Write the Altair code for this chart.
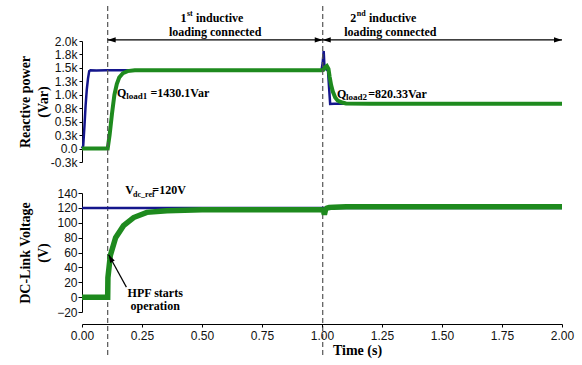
import altair as alt
import pandas as pd

# ---------------- data ----------------
# Reactive power, blue (reference) trace
q_blue_t = [0.0, 0.005, 0.01, 0.015, 0.02, 0.025, 0.03, 0.035, 0.06, 0.1, 0.2, 0.5, 0.8, 0.998,
            1.003, 1.007, 1.01, 1.015, 1.025, 1.03, 1.034, 1.05, 1.1, 1.5, 2.0]
q_blue_v = [0, 50, 400, 800, 1100, 1300, 1440, 1455, 1450, 1455, 1455, 1455, 1455, 1455,
            1600, 1815, 1550, 1480, 1450, 1100, 830, 835, 835, 835, 835]
# Reactive power, green (measured) trace
q_green_t = [0.0, 0.107, 0.115, 0.125, 0.135, 0.145, 0.155, 0.17, 0.19, 0.22, 0.3, 0.6, 0.9, 1.0,
             1.005, 1.012, 1.02, 1.027, 1.032, 1.038, 1.045, 1.055, 1.065, 1.08, 1.1, 1.2, 1.6, 2.0]
q_green_v = [0, 0, 250, 650, 1000, 1200, 1320, 1400, 1440, 1455, 1458, 1458, 1458, 1455,
             1460, 1510, 1535, 1480, 1330, 1180, 1060, 950, 895, 860, 840, 835, 835, 835]
# DC-link voltage, blue (reference) trace
v_blue_t = [0.0, 2.0]
v_blue_v = [120, 120]
# DC-link voltage, green (measured) trace
v_green_t = [0.0, 0.107, 0.108, 0.118, 0.14, 0.173, 0.215, 0.27, 0.354, 0.5, 0.8, 0.99,
             1.005, 1.01, 1.015, 1.02, 1.03, 1.05, 1.1, 1.5, 2.0]
v_green_v = [0, 0, 26, 56, 80, 96, 107, 114, 116, 117.5, 117.5, 117.5,
             117, 111, 118, 119.5, 120.5, 121, 121.5, 121.5, 121.5]

event_t = [0.107, 1.003]          # inductive loads connected
x_ticks = [0.0, 0.25, 0.5, 0.75, 1.0, 1.25, 1.5, 1.75, 2.0]
q_ticks = [-250, 0, 250, 500, 750, 1000, 1250, 1500, 1750, 2000]
q_tick_labels = ["-0.3k", "0.0", "0.3k", "0.5k", "0.8k", "1.0k", "1.3k", "1.5k", "1.8k", "2.0k"]
v_ticks = [-20, 0, 20, 40, 60, 80, 100, 120, 140]

BLUE = "#14168c"
GREEN = "#1e8a1e"
SERIF = "Liberation Serif"
SANS = "Liberation Sans"

W = 480
H_TOP = 121
H_BOT = 119

q_label_expr = " : ".join(
    f"datum.value == {v} ? '{l}'" for v, l in zip(q_ticks, q_tick_labels)
) + " : ''"

xs = alt.Scale(domain=[0, 2], nice=False, zero=False)
qs = alt.Scale(domain=[-250, 2000], nice=False, zero=False)
vs = alt.Scale(domain=[-20, 140], nice=False, zero=False)

axis_common = dict(domainColor="black", tickColor="black", labelFont=SANS, labelFontSize=12,
                   labelColor="#111", grid=False, titleFont=SERIF, titleFontWeight="bold",
                   titleFontSize=14, titleColor="black", labelFlush=False, labelOverlap=False)

q_axis = alt.Axis(values=q_ticks, labelExpr=q_label_expr, tickSize=3, labelPadding=2,
                  title=["Reactive power", "(Var)"], titleAngle=270, titleX=-63.7,
                  titleY=H_TOP / 2, titleAlign="center", titleBaseline="top",
                  titleLineHeight=18, **axis_common)
v_axis = alt.Axis(values=v_ticks, tickSize=4, labelPadding=1,
                  title=["DC-Link Voltage", "(V)"], titleAngle=270, titleX=-63.7,
                  titleY=H_BOT / 2, titleAlign="center", titleBaseline="top",
                  titleLineHeight=18, **axis_common)
x_axis = alt.Axis(values=x_ticks, format=".2f", tickSize=3, labelPadding=3, offset=12,
                  title="Time (s)", titleX=275, titleY=30, titleAlign="center",
                  titleBaseline="alphabetic", **axis_common)

# ---------------- top panel ----------------
qb = pd.DataFrame({"t": q_blue_t, "v": q_blue_v})
qg = pd.DataFrame({"t": q_green_t, "v": q_green_v})

def xq(field="t"):
    return alt.X(f"{field}:Q", scale=xs, axis=None)

def yq(field="v"):
    return alt.Y(f"{field}:Q", scale=qs, axis=q_axis)

blue_q = alt.Chart(qb).mark_line(color=BLUE, strokeWidth=2.5).encode(
    x=xq(), y=yq(), order="t:Q")
green_q = alt.Chart(qg).mark_line(color=GREEN, strokeWidth=4).encode(
    x=xq(), y=yq(), order="t:Q")

ev = pd.DataFrame({"t": event_t})
dashes = alt.Chart(ev).mark_rule(color="#555", strokeWidth=1.2, strokeDash=[5, 3]).encode(
    x=xq(), y=alt.value(-35), y2=alt.value(314))

arrow_df = pd.DataFrame({"t0": [event_t[0], event_t[1]], "t1": [event_t[1], 2.0], "v": [2020, 2020]})
arrow_lines = alt.Chart(arrow_df).mark_rule(color="black", strokeWidth=1.2).encode(
    x=xq("t0"), x2="t1:Q", y=yq())

head_path = "M0,0L-2,-0.65L-2,0.65Z"
heads_df = pd.DataFrame({"t": [event_t[0], event_t[1], event_t[1], 2.0],
                         "v": [2020, 2020, 2020, 2020],
                         "a": [180, 0, 180, 0]})
heads = alt.Chart(heads_df).mark_point(shape=head_path, filled=True, size=64, color="black",
                                       opacity=1).encode(
    x=xq(), y=yq(), angle=alt.Angle("a:Q", scale=None))

top_left_txt = pd.DataFrame({
    "text": ["1", "st", "inductive", "2", "nd", "inductive",
             "Q", "load1", "=1430.1Var", "Q", "load2", "=820.33Var"],
    "t": [0.41, 0.437, 0.475, 1.118, 1.145, 1.196,
          0.146, 0.1845, 0.2855, 1.0625, 1.1, 1.1925],
    "v": [2360, 2465, 2360, 2360, 2465, 2360,
          965, 913, 965, 947, 904, 947],
    "s": [12, 8, 12, 12, 8, 12, 12, 9, 12, 12, 9, 12],
})
top_left_text = alt.Chart(top_left_txt).mark_text(
    font=SERIF, fontWeight="bold", align="left", baseline="alphabetic", color="black").encode(
    x=xq(), y=yq(), text="text:N", size=alt.Size("s:Q", scale=None))
top_c_txt = pd.DataFrame({"text": ["loading connected", "loading connected"],
                          "t": [0.555, 1.2846], "v": [2094, 2094]})
top_c_text = alt.Chart(top_c_txt).mark_text(
    font=SERIF, fontWeight="bold", align="center", baseline="alphabetic", fontSize=12,
    color="black").encode(x=xq(), y=yq(), text="text:N")

top = alt.layer(blue_q, green_q, dashes, arrow_lines, heads, top_left_text, top_c_text).properties(
    width=W, height=H_TOP)

# ---------------- bottom panel ----------------
vb = pd.DataFrame({"t": v_blue_t, "v": v_blue_v})
vg = pd.DataFrame({"t": v_green_t, "v": v_green_v})

def xv(field="t"):
    return alt.X(f"{field}:Q", scale=xs, axis=x_axis)

def yv(field="v"):
    return alt.Y(f"{field}:Q", scale=vs, axis=v_axis)

blue_v = alt.Chart(vb).mark_line(color=BLUE, strokeWidth=2.5).encode(
    x=xv(), y=yv(), order="t:Q")
green_v = alt.Chart(vg).mark_line(color=GREEN, strokeWidth=5.5).encode(
    x=xv(), y=yv(), order="t:Q")

hpf_line_df = pd.DataFrame({"t0": [0.185], "v0": [13.4], "t1": [0.111], "v1": [56.9]})
hpf_line = alt.Chart(hpf_line_df).mark_rule(color="black", strokeWidth=1.2).encode(
    x=xv("t0"), y=yv("v0"), x2="t1:Q", y2="v1:Q")
hpf_head_df = pd.DataFrame({"t": [0.111], "v": [56.9], "a": [241.4]})
hpf_head = alt.Chart(hpf_head_df).mark_point(shape=head_path, filled=True, size=64,
                                             color="black", opacity=1).encode(
    x=xv(), y=yv(), angle=alt.Angle("a:Q", scale=None))

bot_left_txt = pd.DataFrame({"text": ["V", "dc_ref", "=120V"],
                             "t": [0.180, 0.2125, 0.293], "v": [139, 135, 139],
                             "s": [12, 8, 12]})
bot_left_text = alt.Chart(bot_left_txt).mark_text(
    font=SERIF, fontWeight="bold", align="left", baseline="alphabetic", color="black").encode(
    x=xv(), y=yv(), text="text:N", size=alt.Size("s:Q", scale=None))
bot_c_txt = pd.DataFrame({"text": ["HPF starts", "operation"], "t": [0.305, 0.305],
                          "v": [-0.4, -17.8]})
bot_c_text = alt.Chart(bot_c_txt).mark_text(
    font=SERIF, fontWeight="bold", align="center", baseline="alphabetic", fontSize=12,
    color="black").encode(x=xv(), y=yv(), text="text:N")

bottom = alt.layer(blue_v, green_v, hpf_line, hpf_head, bot_left_text, bot_c_text).properties(
    width=W, height=H_BOT)

chart = alt.vconcat(top, bottom, spacing=31).properties(
    bounds="flush",
    padding={"left": 18, "top": 5, "right": 5, "bottom": 3},
    background="white",
).configure_view(stroke=None)

chart.save("out.html", embed_options={"renderer": "svg", "actions": False})
